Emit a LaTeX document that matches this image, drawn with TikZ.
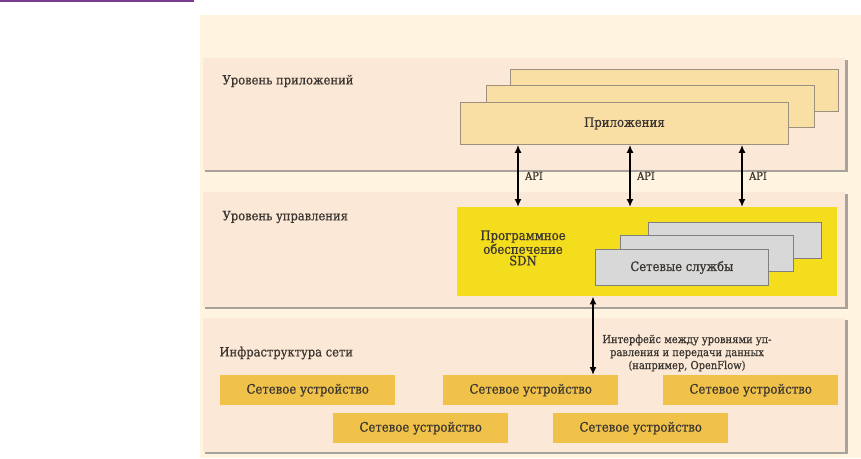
\documentclass[tikz,border=0pt]{standalone}
\usepackage{fontspec}
\setmainfont{DejaVu Serif Condensed}[FakeBold=0.6]
\usetikzlibrary{arrows.meta,positioning}
\definecolor{topLine}{HTML}{7A3C93}
\definecolor{creamBg}{HTML}{FEF4E0}
\definecolor{layerFill}{HTML}{FCE8D7}
\definecolor{layerShade}{HTML}{A8A29C}
\definecolor{appFill}{HTML}{FADFA4}
\definecolor{appEdge}{HTML}{9C9080}
\definecolor{sdnYellow}{HTML}{F4DD1C}
\definecolor{svcFill}{HTML}{D8D8D8}
\definecolor{svcEdge}{HTML}{808080}
\definecolor{devFill}{HTML}{F1C24A}
\definecolor{inkGray}{HTML}{3A3530}
\tikzset{
  layer/.style={fill=layerFill, anchor=north west, inner sep=0pt},
  layertitle/.style={anchor=west, text=inkGray, font=\fontsize{12.8}{13}\selectfont},
  appbox/.style={fill=appFill, draw=appEdge, line width=0.8pt, anchor=north west,
    minimum width=328, minimum height=42, inner sep=0pt},
  svcbox/.style={fill=svcFill, draw=svcEdge, line width=0.8pt, anchor=north west,
    minimum width=173, minimum height=36, inner sep=0pt},
  devbox/.style={fill=devFill, anchor=north west, minimum width=175, minimum height=30,
    inner sep=0pt, text=inkGray, font=\fontsize{13}{13}\selectfont},
  smalltext/.style={text=inkGray, font=\fontsize{11}{13}\selectfont},
  link/.style={line width=1.6pt, {Latex[length=8pt,width=7pt]}-{Latex[length=8pt,width=7pt]}}
}
\begin{document}
\begin{tikzpicture}[x=1pt,y=-1pt]
  \useasboundingbox (0,0) rectangle (861,458);
  \fill[topLine] (0,0) rectangle (194,2); % purple rule
  \fill[creamBg] (200,15) rectangle (861,458); % background
  % layer panels with shadow
  \fill[layerShade] (205,60) rectangle (848,172);
  \node[layer, minimum width=642, minimum height=112] (appLayer) at (203,58) {};
  \fill[layerShade] (205,194) rectangle (848,309);
  \node[layer, minimum width=642, minimum height=115] (ctrlLayer) at (203,192) {};
  \fill[layerShade] (205,320) rectangle (848,454);
  \node[layer, minimum width=642, minimum height=134] (infraLayer) at (203,318) {};
  \node[layertitle] (appTitle) at (219,81) {Уровень приложений};
  \node[layertitle] (ctrlTitle) at (219,217) {Уровень управления};
  \node[layertitle] (infraTitle) at (216,353) {Инфраструктура сети};
  % applications
  \node[appbox] (appBack) at (510,69) {};
  \node[appbox] (appMid) at (486,85) {};
  \node[appbox, text=inkGray, font=\fontsize{13}{13}\selectfont] (app) at (460,102) {Приложения};
  % SDN controller
  \node[fill=sdnYellow, anchor=north west, minimum width=380, minimum height=89, inner sep=0pt] (sdn) at (457,207) {};
  \node[text=inkGray, font=\fontsize{13}{11.5}\selectfont, align=center] (sdnText) at (523,248) {Программное\\обеспечение\\SDN};
  \node[svcbox] (svcBack) at (648,222) {};
  \node[svcbox] (svcMid) at (620,235) {};
  \node[svcbox, text=inkGray, font=\fontsize{12.9}{13}\selectfont] (svc) at (595,249) {Сетевые службы};
  % API arrows
  \draw[link] (518,0 |- app.south) -- (518,0 |- sdn.north) node[midway, right=3pt, smalltext] (api1) {API};
  \draw[link] (630,0 |- app.south) -- (630,0 |- sdn.north) node[midway, right=3pt, smalltext] (api2) {API};
  \draw[link] (742,0 |- app.south) -- (742,0 |- sdn.north) node[midway, right=3pt, smalltext] (api3) {API};
  % network devices
  \node[devbox] (dev1) at (220,375) {Сетевое устройство};
  \node[devbox] (dev2) at (443,375) {Сетевое устройство};
  \node[devbox] (dev3) at (663,375) {Сетевое устройство};
  \node[devbox] (dev4) at (333,413) {Сетевое устройство};
  \node[devbox] (dev5) at (553,413) {Сетевое устройство};
  % southbound interface
  \draw[link] (593,0 |- sdn.south) -- (593,0 |- dev2.north);
  \node[smalltext, align=center] (ifText) at (687,353) {Интерфейс между уровнями уп-\\равления и передачи данных\\(например, OpenFlow)};
\end{tikzpicture}
\end{document}
